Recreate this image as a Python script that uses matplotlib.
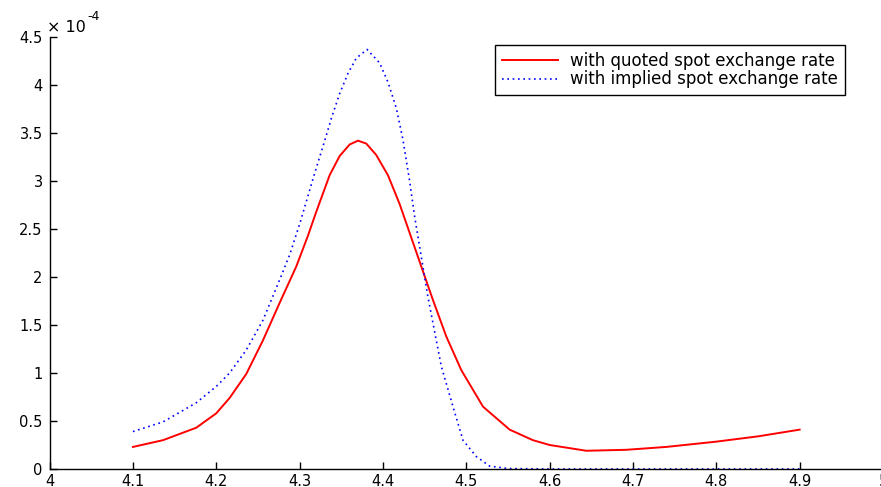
"""
Quoted vs implied spot exchange rate curves, MATLAB-style figure.
"""

import matplotlib
matplotlib.use("Agg")
import matplotlib.pyplot as plt

# values are in units of 1e-4
X_QUOTED = [4.100, 4.136, 4.176, 4.200, 4.216, 4.236, 4.256, 4.276, 4.296, 4.310,
            4.320, 4.336, 4.348, 4.360, 4.370, 4.380, 4.392, 4.406, 4.420, 4.432,
            4.444, 4.460, 4.476, 4.494, 4.520, 4.552, 4.580, 4.600, 4.644, 4.692,
            4.740, 4.800, 4.850, 4.900]
Y_QUOTED = [0.23, 0.30, 0.43, 0.58, 0.74, 0.99, 1.34, 1.73, 2.11, 2.43,
            2.68, 3.06, 3.26, 3.38, 3.42, 3.39, 3.27, 3.06, 2.76, 2.46,
            2.16, 1.76, 1.38, 1.03, 0.65, 0.41, 0.30, 0.25, 0.19, 0.20,
            0.23, 0.285, 0.34, 0.41]

X_IMPLIED = [4.100, 4.136, 4.176, 4.200, 4.216, 4.236, 4.256, 4.276, 4.288, 4.300,
             4.318, 4.328, 4.338, 4.348, 4.358, 4.368, 4.381, 4.396, 4.406, 4.416,
             4.424, 4.432, 4.438, 4.446, 4.454, 4.460, 4.470, 4.484, 4.496, 4.512,
             4.528, 4.550, 4.600, 4.700, 4.800, 4.900]
Y_IMPLIED = [0.39, 0.49, 0.69, 0.86, 1.00, 1.24, 1.55, 1.97, 2.23, 2.55,
             3.08, 3.36, 3.65, 3.91, 4.12, 4.28, 4.37, 4.23, 4.03, 3.76,
             3.43, 3.00, 2.63, 2.21, 1.79, 1.52, 1.07, 0.65, 0.30, 0.13,
             0.03, 0.005, 0.0, 0.0, 0.0, 0.0]

LABELS = ["with quoted spot exchange rate", "with implied spot exchange rate"]
X_TICKS = [4.0, 4.1, 4.2, 4.3, 4.4, 4.5, 4.6, 4.7, 4.8, 4.9, 5.0]
X_TICKLABELS = ["4", "4.1", "4.2", "4.3", "4.4", "4.5", "4.6", "4.7", "4.8", "4.9", "5"]
Y_TICKS = [0, 0.5, 1, 1.5, 2, 2.5, 3, 3.5, 4, 4.5]
Y_TICKLABELS = ["0", "0.5", "1", "1.5", "2", "2.5", "3", "3.5", "4", "4.5"]

plt.rcParams["font.family"] = ["DejaVu Sans"]
plt.rcParams["font.size"] = 10

W, H = 881, 487
fig = plt.figure(figsize=(W / 100, H / 100), dpi=100)
ax = fig.add_axes([49.6 / W, 18 / H, (883 - 49.6) / W, 432 / H])

ax.plot(X_QUOTED, Y_QUOTED, color="red", linewidth=1.4, label=LABELS[0])
ax.plot(X_IMPLIED, Y_IMPLIED, color="blue", linestyle=(0, (1, 2.2)),
        linewidth=1.2, label=LABELS[1])

ax.set_xlim(4.0, 5.0)
ax.set_ylim(0, 4.5)
ax.set_xticks(X_TICKS)
ax.set_xticklabels(X_TICKLABELS)
ax.set_yticks(Y_TICKS)
ax.set_yticklabels(Y_TICKLABELS)
ax.tick_params(direction="in", length=5, width=1, pad=5, colors="black",
               labelsize=10.5)
ax.tick_params(axis="x", pad=3.5)

for side in ("top", "right"):
    ax.spines[side].set_visible(False)
for side in ("left", "bottom"):
    ax.spines[side].set_linewidth(1.0)

# exponent marker in MATLAB style
fig.text(47 / W, 1 - 32 / H, "\u00d7 10", fontsize=11.5, ha="left", va="baseline")
fig.text(87 / W, 1 - 20 / H, "-4", fontsize=9, ha="left", va="baseline")

leg = ax.legend(loc="upper left", bbox_to_anchor=(495 / W, 1 - 45 / H),
                bbox_transform=fig.transFigure, borderaxespad=0,
                fancybox=False, framealpha=1, edgecolor="black",
                fontsize=12, handlelength=3.4, handletextpad=0.7,
                labelspacing=0.05, borderpad=0.4)
leg.get_frame().set_linewidth(1.0)

fig.savefig("out.png", dpi=100)
